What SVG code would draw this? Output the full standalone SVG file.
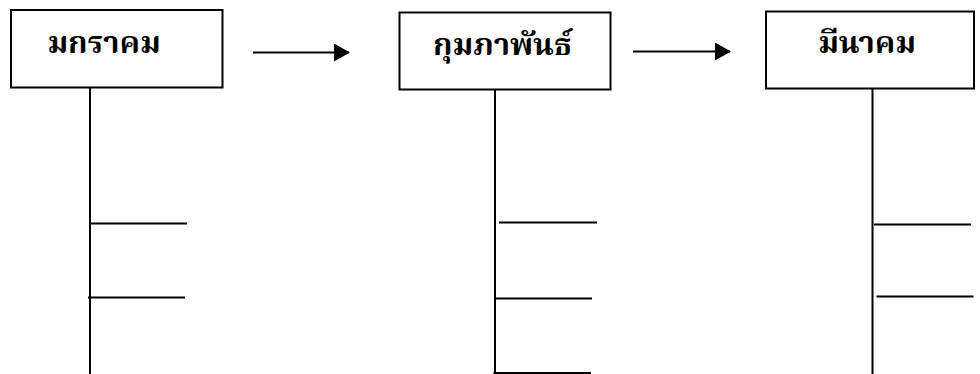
<svg xmlns="http://www.w3.org/2000/svg" width="980" height="374" viewBox="0 0 980 374">
<defs>
<style>
.box{fill:#fff;stroke:#000;stroke-width:2}
.ln{stroke:#000;stroke-width:2;fill:none}
.lbl{font-family:"Liberation Serif","Noto Serif Thai","Noto Sans Thai",serif;font-weight:bold;font-size:31px;fill:#000;text-anchor:middle}
</style>
<marker id="ah" markerWidth="16" markerHeight="18" refX="15" refY="9" orient="auto" markerUnits="userSpaceOnUse">
<path d="M0,0 L16,9 L0,18 Z" fill="#000"/>
</marker>
</defs>
<g id="n1">
<rect class="box" x="11" y="10" width="211.5" height="77.5"/>
<text class="lbl" x="104" y="53">มกราคม</text>
</g>
<g id="n2">
<rect class="box" x="399.5" y="12.5" width="211" height="77"/>
<text class="lbl" x="502.5" y="55">กุมภาพันธ์</text>
</g>
<g id="n3">
<rect class="box" x="766" y="11.5" width="208" height="77"/>
<text class="lbl" x="867" y="53">มีนาคม</text>
</g>
<g id="connectors">
<line class="ln" x1="253" y1="52.5" x2="349" y2="52.5" marker-end="url(#ah)"/>
<line class="ln" x1="633" y1="51.5" x2="730" y2="51.5" marker-end="url(#ah)"/>
<line class="ln" x1="90" y1="88" x2="90" y2="374"/>
<line class="ln" x1="90" y1="223.5" x2="187" y2="223.5"/>
<line class="ln" x1="88" y1="297.5" x2="185" y2="297.5"/>
<line class="ln" x1="495" y1="90" x2="495" y2="374"/>
<line class="ln" x1="499" y1="222.5" x2="597" y2="222.5"/>
<line class="ln" x1="495" y1="298.5" x2="592" y2="298.5"/>
<line class="ln" x1="493.5" y1="373" x2="591" y2="373"/>
<line class="ln" x1="872.5" y1="88.5" x2="872.5" y2="374"/>
<line class="ln" x1="874" y1="224.5" x2="971" y2="224.5"/>
<line class="ln" x1="876.5" y1="296.5" x2="973.5" y2="296.5"/>
</g>
</svg>
